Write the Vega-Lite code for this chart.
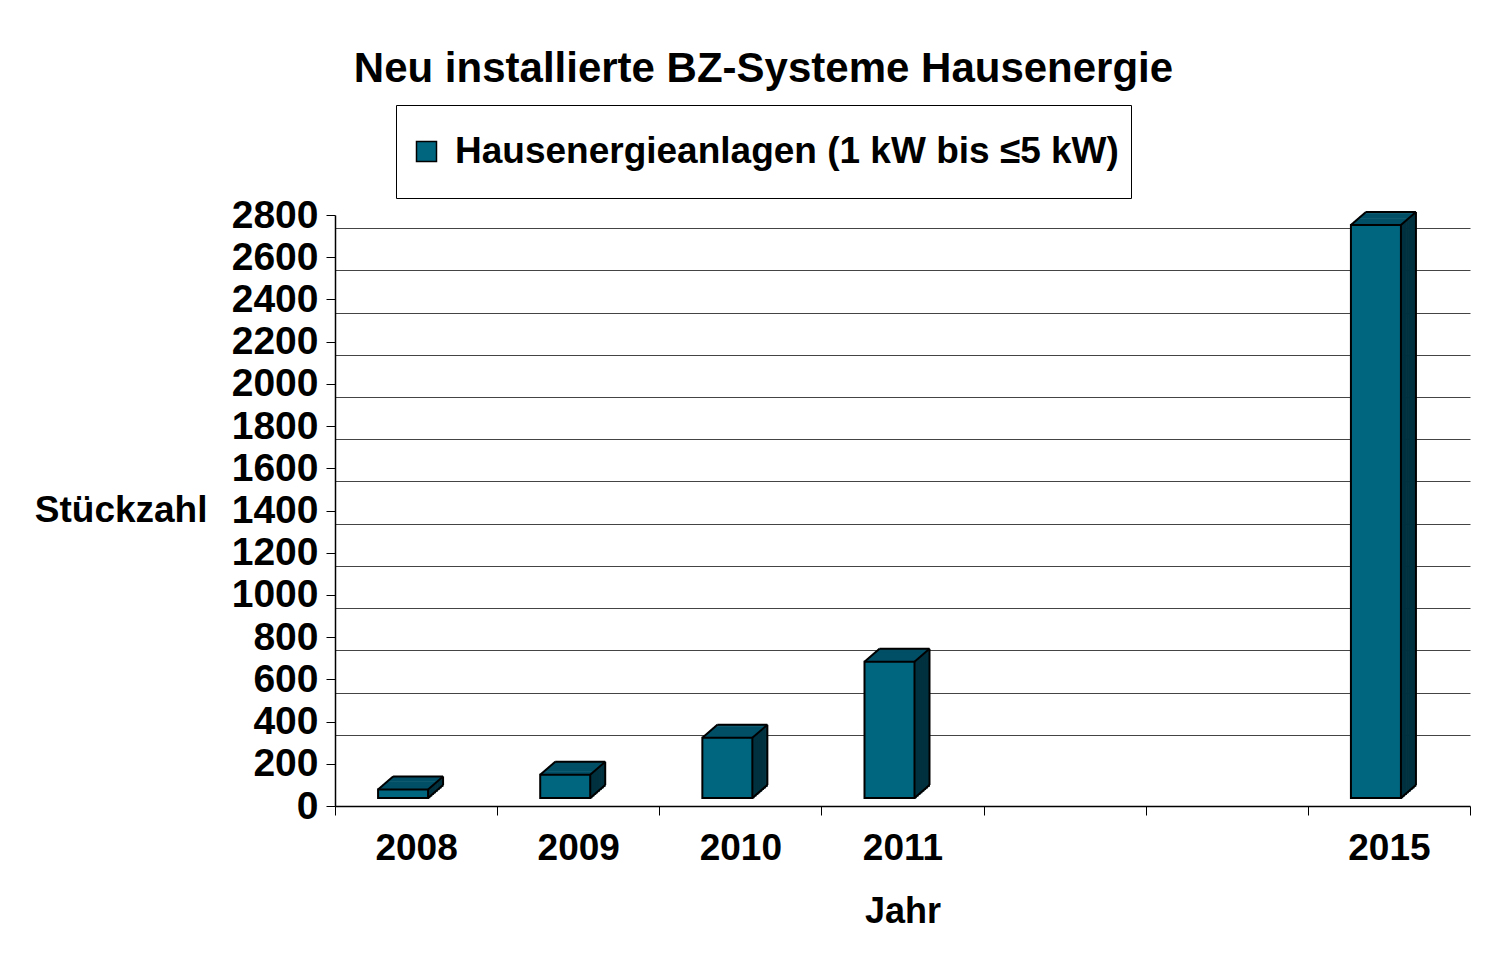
{
  "$schema": "https://vega.github.io/schema/vega-lite/v6.json",
  "width": 1135,
  "height": 591,
  "autosize": "none",
  "padding": {"left": 335, "top": 215, "right": 22, "bottom": 148},
  "background": "white",
  "config": {"font": "Liberation Sans", "view": {"stroke": null}},
  "title": {
    "text": "Neu installierte BZ-Systeme Hausenergie",
    "fontSize": 42,
    "fontWeight": "bold",
    "color": "black",
    "anchor": "middle",
    "dx": -139,
    "offset": 14
  },
  "data": {
    "values": [
      {"year": "2008", "value": 40, "serie": "Hausenergieanlagen (1 kW bis ≤5 kW)"},
      {"year": "2009", "value": 110, "serie": "Hausenergieanlagen (1 kW bis ≤5 kW)"},
      {"year": "2010", "value": 285, "serie": "Hausenergieanlagen (1 kW bis ≤5 kW)"},
      {"year": "2011", "value": 645, "serie": "Hausenergieanlagen (1 kW bis ≤5 kW)"},
      {"year": "2015", "value": 2715, "serie": "Hausenergieanlagen (1 kW bis ≤5 kW)"}
    ]
  },
  "encoding": {
    "x": {
      "field": "year",
      "type": "nominal",
      "scale": {"domain": ["2008", "2009", "2010", "2011", "2012", "2013", "2015"], "paddingInner": 0, "paddingOuter": 0},
      "axis": {
        "labelAngle": 0,
        "labelExpr": "datum.value == '2012' || datum.value == '2013' ? '' : datum.value",
        "labelFontSize": 37,
        "labelFontWeight": "bold",
        "labelColor": "black",
        "labelPadding": 15,
        "tickBand": "extent",
        "tickSize": 9,
        "tickColor": "black",
        "domainColor": "black",
        "domainWidth": 1.5,
        "title": "Jahr",
        "titleFontSize": 36,
        "titleFontWeight": "bold",
        "titleColor": "black",
        "titlePadding": 28
      }
    }
  },
  "layer": [
    {
      "encoding": {
        "y": {
          "field": "value",
          "type": "quantitative",
          "scale": {"domain": [0, 2800], "nice": false},
          "axis": {
            "values": [0, 200, 400, 600, 800, 1000, 1200, 1400, 1600, 1800, 2000, 2200, 2400, 2600, 2800],
            "format": "d",
            "labelFontSize": 39,
            "labelFontWeight": "bold",
            "labelColor": "black",
            "labelPadding": 8,
            "tickSize": 9,
            "tickColor": "black",
            "domainColor": "black",
            "domainWidth": 1.5,
            "grid": false,
            "title": "Stückzahl",
            "titleFontSize": 37,
            "titleFontWeight": "bold",
            "titleColor": "black",
            "titleAngle": 0,
            "titleAlign": "right",
            "titleBaseline": "middle",
            "titleX": -128,
            "titleY": 295
          }
        }
      },
      "layer": [
        {"mark": {"type": "bar", "width": 2.6, "xOffset": 12.94, "x2Offset": 12.94, "yOffset": -9.925, "y2Offset": -7.8, "fill": "#00313f"}, "encoding": {"y2": {"datum": 0}}},
        {"mark": {"type": "bar", "width": 2.6, "xOffset": 14.815, "x2Offset": 14.815, "yOffset": -11.55, "y2Offset": -9.425, "fill": "#00313f"}, "encoding": {"y2": {"datum": 0}}},
        {"mark": {"type": "bar", "width": 2.6, "xOffset": 16.69, "x2Offset": 16.69, "yOffset": -13.175, "y2Offset": -11.05, "fill": "#00313f"}, "encoding": {"y2": {"datum": 0}}},
        {"mark": {"type": "bar", "width": 2.6, "xOffset": 18.565, "x2Offset": 18.565, "yOffset": -14.8, "y2Offset": -12.675, "fill": "#00313f"}, "encoding": {"y2": {"datum": 0}}},
        {"mark": {"type": "bar", "width": 2.6, "xOffset": 20.44, "x2Offset": 20.44, "yOffset": -16.425, "y2Offset": -14.3, "fill": "#00313f"}, "encoding": {"y2": {"datum": 0}}},
        {"mark": {"type": "bar", "width": 2.6, "xOffset": 22.315, "x2Offset": 22.315, "yOffset": -18.05, "y2Offset": -15.925, "fill": "#00313f"}, "encoding": {"y2": {"datum": 0}}},
        {"mark": {"type": "bar", "width": 2.6, "xOffset": 24.19, "x2Offset": 24.19, "yOffset": -19.675, "y2Offset": -17.55, "fill": "#00313f"}, "encoding": {"y2": {"datum": 0}}},
        {"mark": {"type": "bar", "width": 2.6, "xOffset": 26.065, "x2Offset": 26.065, "yOffset": -21.3, "y2Offset": -19.175, "fill": "#00313f"}, "encoding": {"y2": {"datum": 0}}},

        {"mark": {"type": "bar", "width": 50, "xOffset": -12.06, "x2Offset": -12.06, "yOffset": -9.925, "y2Offset": -7.7, "fill": "#004f66"}, "encoding": {"y2": {"field": "value"}}},
        {"mark": {"type": "bar", "width": 50, "xOffset": -10.185, "x2Offset": -10.185, "yOffset": -11.55, "y2Offset": -9.325, "fill": "#004f66"}, "encoding": {"y2": {"field": "value"}}},
        {"mark": {"type": "bar", "width": 50, "xOffset": -8.31, "x2Offset": -8.31, "yOffset": -13.175, "y2Offset": -10.95, "fill": "#004f66"}, "encoding": {"y2": {"field": "value"}}},
        {"mark": {"type": "bar", "width": 50, "xOffset": -6.435, "x2Offset": -6.435, "yOffset": -14.8, "y2Offset": -12.575, "fill": "#004f66"}, "encoding": {"y2": {"field": "value"}}},
        {"mark": {"type": "bar", "width": 50, "xOffset": -4.56, "x2Offset": -4.56, "yOffset": -16.425, "y2Offset": -14.2, "fill": "#004f66"}, "encoding": {"y2": {"field": "value"}}},
        {"mark": {"type": "bar", "width": 50, "xOffset": -2.685, "x2Offset": -2.685, "yOffset": -18.05, "y2Offset": -15.825, "fill": "#004f66"}, "encoding": {"y2": {"field": "value"}}},
        {"mark": {"type": "bar", "width": 50, "xOffset": -0.81, "x2Offset": -0.81, "yOffset": -19.675, "y2Offset": -17.45, "fill": "#004f66"}, "encoding": {"y2": {"field": "value"}}},
        {"mark": {"type": "bar", "width": 50, "xOffset": 1.065, "x2Offset": 1.065, "yOffset": -21.3, "y2Offset": -19.075, "fill": "#004f66"}, "encoding": {"y2": {"field": "value"}}},

        {
          "mark": {"type": "bar", "width": 50, "xOffset": -13, "x2Offset": -13, "yOffset": -8, "y2Offset": -8, "stroke": "black", "strokeWidth": 2, "opacity": 1},
          "encoding": {
            "color": {
              "field": "serie",
              "type": "nominal",
              "scale": {"range": ["#006680"]},
              "legend": {
                "title": null,
                "orient": "none",
                "legendX": 61,
                "legendY": -110,
                "padding": 12,
                "clipHeight": 69,
                "strokeColor": "black",
                "fillColor": "white",
                "symbolType": "square",
                "symbolSize": 400,
                "symbolStrokeColor": "black",
                "symbolStrokeWidth": 1.5,
                "symbolOpacity": 1,
                "labelFontSize": 37,
                "labelFontWeight": "bold",
                "labelColor": "black",
                "labelLimit": 1000,
                "labelOffset": 10
              }
            }
          }
        },

        {"mark": {"type": "rule", "color": "black", "strokeWidth": 2, "xOffset": -23, "x2Offset": 27, "yOffset": -21, "y2Offset": -21},
         "encoding": {"x2": {"field": "year"}, "y2": {"field": "value"}}},
        {"mark": {"type": "rule", "color": "black", "strokeWidth": 2, "xOffset": 27, "x2Offset": 27, "yOffset": -21, "y2Offset": -21},
         "encoding": {"x2": {"field": "year"}, "y2": {"datum": 0}}},
        {"mark": {"type": "rule", "color": "black", "strokeWidth": 2, "xOffset": -38, "x2Offset": -23, "yOffset": -8, "y2Offset": -21},
         "encoding": {"x2": {"field": "year"}, "y2": {"field": "value"}}},
        {"mark": {"type": "rule", "color": "black", "strokeWidth": 2, "xOffset": 12, "x2Offset": 27, "yOffset": -8, "y2Offset": -21},
         "encoding": {"x2": {"field": "year"}, "y2": {"field": "value"}}},
        {"mark": {"type": "rule", "color": "black", "strokeWidth": 2, "xOffset": 12, "x2Offset": 27, "yOffset": -8, "y2Offset": -21},
         "encoding": {"x2": {"field": "year"}, "y": {"datum": 0, "type": "quantitative", "scale": {"domain": [0, 2800], "nice": false},
          "axis": {
            "values": [0, 200, 400, 600, 800, 1000, 1200, 1400, 1600, 1800, 2000, 2200, 2400, 2600, 2800],
            "format": "d",
            "labelFontSize": 39,
            "labelFontWeight": "bold",
            "labelColor": "black",
            "labelPadding": 8,
            "tickSize": 9,
            "tickColor": "black",
            "domainColor": "black",
            "domainWidth": 1.5,
            "grid": false,
            "title": "Stückzahl",
            "titleFontSize": 37,
            "titleFontWeight": "bold",
            "titleColor": "black",
            "titleAngle": 0,
            "titleAlign": "right",
            "titleBaseline": "middle",
            "titleX": -128,
            "titleY": 295
          }}, "y2": {"datum": 0}}}
      ]
    },
    {
      "mark": {"type": "bar", "opacity": 0},
      "encoding": {
        "y": {
          "field": "value",
          "type": "quantitative",
          "scale": {"domain": [-137.4, 2662.6], "nice": false},
          "axis": {
            "orient": "right",
            "values": [200, 400, 600, 800, 1000, 1200, 1400, 1600, 1800, 2000, 2200, 2400, 2600],
            "labels": false,
            "ticks": false,
            "domain": false,
            "grid": true,
            "gridColor": "#444444",
            "gridWidth": 1,
            "title": null
          }
        }
      }
    }
  ],
  "resolve": {"scale": {"y": "independent"}}
}
